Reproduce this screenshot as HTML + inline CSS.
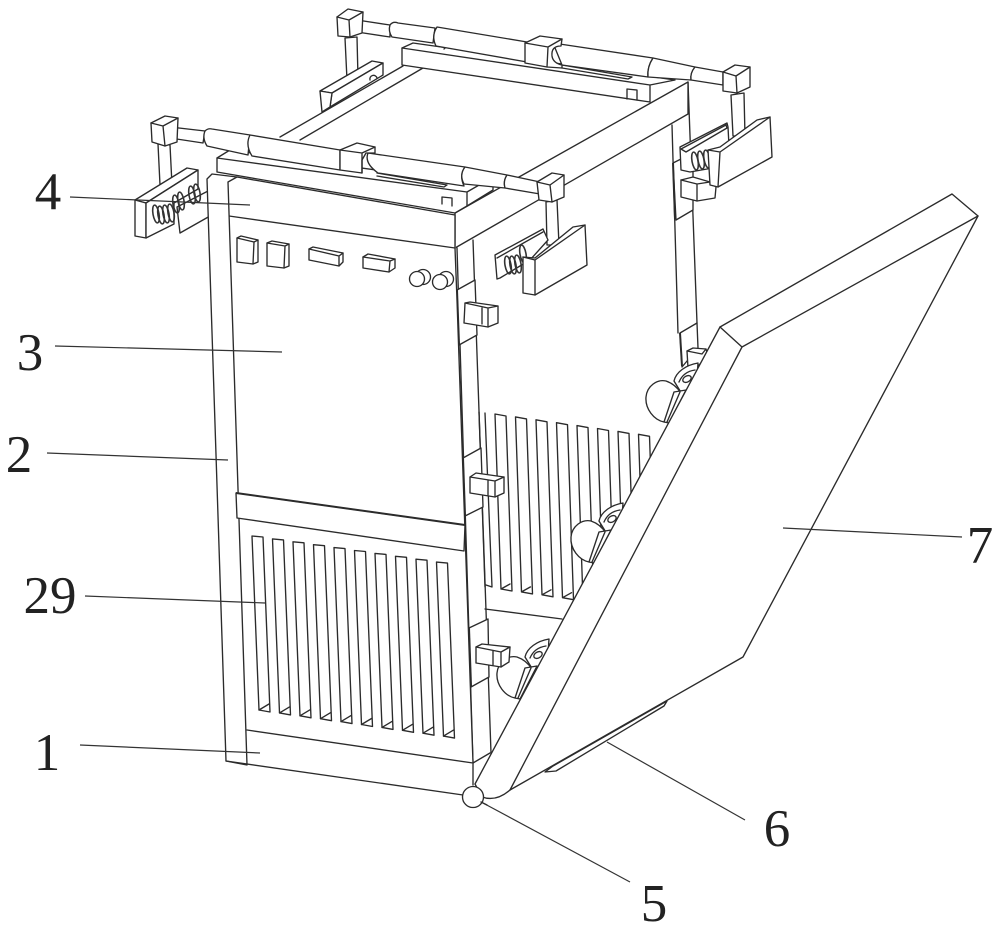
<!DOCTYPE html>
<html>
<head>
<meta charset="utf-8">
<style>
html,body{margin:0;padding:0;background:#fff;width:1000px;height:930px;overflow:hidden}
svg{display:block}
.l{fill:none;stroke:#2b2b2b;stroke-width:1.35;stroke-linejoin:round;stroke-linecap:round}
.f{fill:#fff;stroke:#2b2b2b;stroke-width:1.35;stroke-linejoin:round;stroke-linecap:round}
.t{fill:none;stroke:#2b2b2b;stroke-width:2}
.s{fill:none;stroke:#333;stroke-width:1.6}
.ld{fill:none;stroke:#333;stroke-width:1.2}
text{font-family:"Liberation Serif",serif;font-size:53px;fill:#222;text-anchor:middle}
</style>
</head>
<body>
<svg width="1000" height="930" viewBox="0 0 1000 930" xmlns="http://www.w3.org/2000/svg">
<defs>
<g id="fslot">
<polygon class="l" points="252,536 263,537 270,712 259,710"/>
<path class="l" d="M259,710 L269,704"/>
</g>
<g id="rslot">
<path class="l" d="M495,414 L506,416 L512,591 L501,589 Z M501,589 L510,584"/>
</g>
<g id="roller">
<path class="f" d="M674,381 C676,372 686,365 698,363 L696,392 L682,394 Z"/>
<path class="l" d="M679,382 C682,375 688,371 695,370"/>
<ellipse class="f" cx="687" cy="379" rx="4.5" ry="3" transform="rotate(-30 687 379)"/>
<path class="f" d="M664,422 C654,420 645,409 646,397 C647,386 657,379 666,381 C672,383 677,387 681,393 Z"/>
<polygon class="f" points="674,392 686,390 669,423 664,422"/>
<path class="l" d="M680,392 L667,422"/>
</g>
<g id="sp">
<ellipse class="s" cx="0" cy="0" rx="3" ry="9" transform="rotate(-10)"/>
</g>
</defs>

<!-- back rail / top deck -->
<path class="l" d="M403,66 L280,137 M423,68 L300,140"/>
<polygon class="f" points="402,48 413,43 675,80 650,85 650,102 402,65"/>
<path class="l" d="M402,48 L650,85"/>
<path class="l" d="M444,49 L447,46 L527,58 M562,65 L632,77 L628,79 L562,68"/>
<polyline class="l" points="627,99 627,89 637,90 637,100"/>

<!-- back left clamp -->
<path class="f" d="M345,38 L347,80 L358,78 L357,37 Z"/>
<polygon class="f" points="320,91 332,93 383,63 372,61"/>
<polygon class="f" points="332,93 383,63 383,75 330,107"/>
<polygon class="f" points="320,91 332,93 330,107 322,112"/>
<path class="l" d="M370,80 A3.5,3.5 0 0 1 377,78"/>

<!-- back rod -->
<path class="f" d="M357,20 L390,25 L390,37 L357,32 Z"/>
<path class="f" d="M390,25 Q393,21 398,23 L435,28 L433,43 L392,37 Q388,31 390,25 Z"/>
<path class="f" d="M437,27 L527,42 L527,62 L436,46 Q431,36 437,27 Z"/>
<path class="f" d="M553,43 L653,58 Q647,67 648,77 L562,65 Z"/>
<path class="f" d="M653,58 L695,67 Q690,73 691,80 L648,77 Q647,67 653,58 Z"/>
<path class="f" d="M695,67 L723,72 L723,85 L691,80 Q690,73 695,67 Z"/>
<path class="f" d="M525,43 L540,36 L562,39 L561,46 Q551,46 552,56 Q553,63 562,65 L562,68 L547,67 L525,63 Z"/>
<path class="l" d="M525,43 L548,47 L547,67 M548,47 L562,39"/>
<polygon class="f" points="337,17 348,9 363,12 362,33 350,37 338,36"/>
<path class="l" d="M337,17 L349,20 L363,12 M349,20 L350,37"/>

<!-- right side panel back post -->
<path class="l" d="M672,125 L678,333 M688,82 L697,323"/>
<polygon class="f" points="673,163 693,153 693,210 676,220"/>
<path class="t" d="M673,163 L675,219"/>

<!-- back right clamp -->
<path class="f" d="M731,95 L733,136 L745,136 L744,93 Z"/>
<polygon class="f" points="680,147 727,123 728,127 730,165 690,172 681,170"/>
<polygon class="l" points="681,149 726,125 727,128 686,152"/>
<g transform="translate(695,161)"><use href="#sp"/></g>
<g transform="translate(701,160)"><use href="#sp"/></g>
<g transform="translate(707,159)"><use href="#sp"/></g>
<polygon class="f" points="681,180 693,177 710,182 716,187 715,198 697,201 681,197"/>
<path class="l" d="M681,180 L697,184 L697,201 M697,184 L710,182"/>
<polygon class="f" points="708,150 720,147 757,120 770,117 772,157 718,187 710,185"/>
<path class="l" d="M708,150 L720,152 L770,117 M720,152 L718,187"/>
<polygon class="f" points="723,72 735,65 750,67 750,87 737,93 723,91"/>
<path class="l" d="M723,72 L736,76 L750,67 M736,76 L737,93"/>

<!-- right side top band -->
<polygon class="f" points="455,213 688,82 688,114 455,248"/>

<!-- right side vents -->
<path class="l" d="M479,412 L485,587 M485,413 L492,587 L486,585"/>
<use href="#rslot"/>
<use href="#rslot" x="20.5" y="2.9"/>
<use href="#rslot" x="41" y="5.8"/>
<use href="#rslot" x="61.5" y="8.7"/>
<use href="#rslot" x="82" y="11.6"/>
<use href="#rslot" x="102.5" y="14.5"/>
<use href="#rslot" x="123" y="17.4"/>
<use href="#rslot" x="143.5" y="20.3"/>
<path class="l" d="M485,609 L562,619"/>

<!-- back right hinge + rollers -->
<polygon class="f" points="680,333 697,323 698,348 682,367"/>
<path class="t" d="M680,333 L682,366"/>
<polygon class="f" points="687,351 693,348 706,349 708,356 698,366 688,368"/>
<path class="l" d="M687,351 L702,354 L706,349"/>
<use href="#roller"/>
<use href="#roller" x="-75" y="140"/>
<use href="#roller" x="-149" y="276"/>

<!-- front right clamp -->
<path class="f" d="M546,202 L547,245 L559,245 L557,200 Z"/>
<polygon class="f" points="495,255 543,229 548,240 530,260 500,278 497,279"/>
<polyline class="l" points="497,258 543,232"/>
<g transform="translate(508,265)"><use href="#sp"/></g>
<g transform="translate(513,265)"><use href="#sp"/></g>
<g transform="translate(518,264)"><use href="#sp"/></g>
<g transform="translate(523,254)"><use href="#sp"/></g>
<polygon class="f" points="523,257 535,258 573,227 585,225 587,265 535,295 523,293"/>
<path class="l" d="M523,257 L535,260 L585,225 M535,260 L535,295"/>

<!-- front post right side -->
<path class="l" d="M473,240 L491,753 M457,248 L473,763"/>
<polygon class="f" points="457,290 475,280 477,335 459,345"/>
<path class="t" d="M457,290 L459,344"/>
<polygon class="f" points="463,458 481,448 483,507 465,516"/>
<path class="t" d="M463,458 L465,515"/>
<polygon class="f" points="469,628 488,619 489,677 471,687"/>
<path class="t" d="M469,628 L471,686"/>
<polygon class="f" points="465,303 470,302 498,306 498,323 488,327 464,323"/>
<path class="l" d="M465,303 L488,308 L488,327 M482,308 L482,324 M488,308 L498,306"/>
<polygon class="f" points="470,477 476,473 504,477 504,493 495,497 470,493"/>
<path class="l" d="M470,477 L495,481 L495,497 M488,480 L488,495 M495,481 L504,477"/>
<polygon class="f" points="476,647 482,644 510,647 509,662 501,667 476,663"/>
<path class="l" d="M476,647 L501,652 L501,667 M493,651 L493,665 M501,652 L510,647"/>

<!-- left clamp -->
<path class="f" d="M158,144 L160,185 L172,185 L170,145 Z"/>
<polygon class="f" points="177,207 210,190 210,216 180,233"/>
<polygon class="f" points="135,200 187,168 198,170 146,203"/>
<polygon class="f" points="135,200 146,203 146,238 135,236"/>
<polygon class="f" points="146,203 198,170 198,189 174,203 174,224 146,238"/>
<g transform="translate(156,214)"><use href="#sp"/></g>
<g transform="translate(161,215)"><use href="#sp"/></g>
<g transform="translate(166,214)"><use href="#sp"/></g>
<g transform="translate(171,213)"><use href="#sp"/></g>
<g transform="translate(176,204)"><use href="#sp"/></g>
<g transform="translate(181,201)"><use href="#sp"/></g>
<g transform="translate(192,195)"><use href="#sp"/></g>
<g transform="translate(197,193)"><use href="#sp"/></g>

<!-- top plate front -->
<polygon class="f" points="217,158 230,150 493,186 493,190 467,206 455,213 217,172"/>
<path class="l" d="M217,158 L467,192 L467,206 M467,192 L493,177"/>
<polyline class="l" points="442,204 442,197 452,198 452,206"/>
<path class="l" d="M254,156 L258,154 L340,167 M377,173 L447,185 L444,187 L377,176"/>

<!-- front rod -->
<path class="f" d="M170,127 L205,131 L203,143 L170,138 Z"/>
<path class="f" d="M205,131 Q208,128 212,129 L250,135 L248,155 L207,146 Q202,138 205,131 Z"/>
<path class="f" d="M250,135 L340,150 L340,170 L252,156 Q245,145 250,135 Z"/>
<path class="f" d="M368,153 L465,167 Q459,175 464,186 L378,173 Q364,163 368,153 Z"/>
<path class="f" d="M465,167 L507,175 Q503,181 505,188 L464,184 Q459,175 465,167 Z"/>
<path class="f" d="M507,175 L540,182 L540,194 L505,188 Q503,181 507,175 Z"/>
<polygon class="f" points="340,150 357,143 375,147 375,153 366,153 362,160 362,173 340,170"/>
<path class="l" d="M340,150 L362,153 L362,173 M362,153 L375,147"/>
<polygon class="f" points="151,123 165,116 178,118 177,142 165,146 152,142"/>
<path class="l" d="M151,123 L163,126 L178,118 M163,126 L165,146"/>
<polygon class="f" points="537,182 552,173 564,175 564,197 552,202 539,200"/>
<path class="l" d="M537,182 L550,185 L564,175 M550,185 L552,202"/>

<!-- front face of cabinet -->
<path d="M228,182 L237,177 L455,215 L457,300 L473,763 L473,785 L463,795 L226,761 Z" fill="#fff" stroke="none"/>
<path class="l" d="M237,177 L455,215 L455,248 L457,300 L473,763"/>
<path class="l" d="M229,216 L455,248"/>
<polygon class="f" points="207,179 212,174 237,177 228,182 247,765 226,761"/>
<polygon class="f" points="236,493 465,525 464,551 237,518"/>
<path class="t" d="M236,493 L465,525"/>
<path class="l" d="M247,730 L473,763 L473,785 M226,761 L463,795 M473,763 L490,753"/>

<!-- front slots -->
<use href="#fslot"/>
<use href="#fslot" x="20.5" y="2.9"/>
<use href="#fslot" x="41" y="5.8"/>
<use href="#fslot" x="61.5" y="8.7"/>
<use href="#fslot" x="82" y="11.6"/>
<use href="#fslot" x="102.5" y="14.5"/>
<use href="#fslot" x="123" y="17.4"/>
<use href="#fslot" x="143.5" y="20.3"/>
<use href="#fslot" x="164" y="23.2"/>
<use href="#fslot" x="184.5" y="26.1"/>

<!-- panel buttons -->
<polygon class="f" points="237,238 241,236 258,240 258,262 253,264 237,262"/>
<path class="l" d="M237,238 L254,242 L253,264 M254,242 L258,240"/>
<polygon class="f" points="267,243 272,241 289,244 289,266 284,268 267,266"/>
<path class="l" d="M267,243 L285,246 L284,268 M285,246 L289,244"/>
<polygon class="f" points="309,249 313,247 343,253 343,262 339,266 309,260"/>
<path class="l" d="M309,249 L339,256 L339,266 M339,256 L343,253"/>
<polygon class="f" points="363,257 368,254 395,259 395,268 389,272 363,268"/>
<path class="l" d="M363,257 L390,261 L389,272 M390,261 L395,259"/>
<circle class="f" cx="423" cy="277" r="7.5"/>
<circle class="f" cx="417" cy="279" r="7.5"/>
<circle class="f" cx="446" cy="279" r="7.5"/>
<circle class="f" cx="440" cy="282" r="7.5"/>

<!-- strip under door -->
<polygon class="f" points="545,772 553,766 667,701 664,706 556,771"/>

<!-- door -->
<path class="f" d="M720,327 L952,194 L978,216 L743,657 L510,790 Q496,802 482,797 L475,784 Z"/>
<path class="l" d="M720,327 L742,347 L978,216 M742,347 L510,790"/>

<!-- hinge -->
<circle class="f" cx="473" cy="797" r="10.5"/>
<path class="l" d="M481,802 L487,805"/>

<!-- leaders -->
<path class="ld" d="M70,197 L250,205"/>
<path class="ld" d="M55,346 L282,352"/>
<path class="ld" d="M47,453 L228,460"/>
<path class="ld" d="M85,596 L265,603"/>
<path class="ld" d="M80,745 L260,753"/>
<path class="ld" d="M483,803 L630,882"/>
<path class="ld" d="M607,742 L745,820"/>
<path class="ld" d="M783,528 L962,537"/>

<!-- labels -->
<text x="48" y="209">4</text>
<text x="30" y="370">3</text>
<text x="19" y="472">2</text>
<text x="50" y="613">29</text>
<text x="47" y="770">1</text>
<text x="980" y="563">7</text>
<text x="777" y="846">6</text>
<text x="654" y="921">5</text>
</svg>
</body>
</html>
